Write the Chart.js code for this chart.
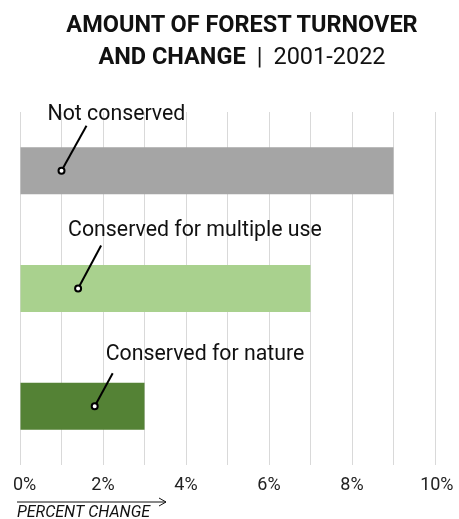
<!DOCTYPE html>
<html>
<head>
<meta charset="utf-8">
<script src="https://cdn.jsdelivr.net/npm/chart.js@4"></script>
<style>
  html, body { margin: 0; padding: 0; background: #fff; }
  #wrap { position: relative; width: 459px; height: 519px; }
  #title {
    position: absolute; left: 25px; top: 8px; width: 434px;
    text-align: center; font-family: Roboto, sans-serif; font-size: 23.5px;
    line-height: 32px; color: #111; font-weight: 700;
  }
  #title .sep { font-weight: 400; margin: 0 11px; }
  #title .yrs { font-weight: 400; }
  canvas { position: absolute; left: 0; top: 0; }
</style>
</head>
<body>
<div id="wrap">
  <canvas id="chart" width="459" height="519"></canvas>
  <div id="title">AMOUNT OF FOREST TURNOVER<br>AND CHANGE<span class="sep">|</span><span class="yrs">2001-2022</span></div>
</div>
<script>
let categories = ['Not conserved', 'Conserved for multiple use', 'Conserved for nature'];
let percentChange = [9, 7, 3];
let barColors = ['#a5a5a5', '#a9d18e', '#548235'];
let labeledTicks = [0, 2, 4, 6, 8, 10];
// where each pointer touches its bar, in percent
let pointerAt = [1.0, 1.4, 1.8];

// text and line offsets (px) relative to the pointer dot
let calloutStyle = [
    { tx: -14, ty: -51, lx: 25, ly: -45 },
    { tx: -10, ty: -53, lx: 23, ly: -43 },
    { tx: 11, ty: -46, lx: 18, ly: -33 }
];

const callouts = {
    id: 'callouts',
    afterDatasetsDraw(chart) {
        let ctx = chart.ctx;
        let xs = chart.scales.x;
        let bars = chart.getDatasetMeta(0).data;
        ctx.save();
        bars.forEach((bar, i) => {
            let s = calloutStyle[i];
            let dx = xs.getPixelForValue(pointerAt[i]);
            let dy = bar.y;
            ctx.strokeStyle = '#000';
            ctx.lineWidth = 2;
            ctx.beginPath();
            ctx.moveTo(dx + s.lx, dy + s.ly);
            ctx.lineTo(dx, dy);
            ctx.stroke();
            ctx.beginPath();
            ctx.arc(dx, dy, 3, 0, Math.PI * 2);
            ctx.fillStyle = '#fff';
            ctx.fill();
            ctx.stroke();
            ctx.fillStyle = '#111';
            ctx.font = '21.3px Roboto';
            ctx.textBaseline = 'alphabetic';
            ctx.textAlign = 'left';
            ctx.fillText(categories[i], dx + s.tx, dy + s.ty);
        });

        // axis title with arrow
        let x0 = 17;
        let ay = 502;
        ctx.strokeStyle = '#111';
        ctx.lineWidth = 1;
        ctx.beginPath();
        ctx.moveTo(x0, ay);
        ctx.lineTo(x0 + 149, ay);
        ctx.moveTo(x0 + 142, ay - 4);
        ctx.lineTo(x0 + 149, ay);
        ctx.lineTo(x0 + 142, ay + 4);
        ctx.stroke();
        ctx.fillStyle = '#111';
        ctx.font = 'italic 16px Roboto';
        ctx.textBaseline = 'alphabetic';
        ctx.fillText('PERCENT CHANGE', x0, 517);
        ctx.restore();
    }
};

function tickText(v) {
    if (!labeledTicks.includes(v)) return '';
    // the end labels sit a little right of their gridlines
    if (v === 0) return '\u2002' + v + '%';
    if (v === 10) return '\u2009' + v + '%';
    return v + '%';
}

new Chart(document.getElementById('chart').getContext('2d'), {
    type: 'bar',
    data: {
        labels: categories,
        datasets: [{
            data: percentChange,
            backgroundColor: barColors,
            borderWidth: 0,
            barPercentage: 0.4,
            categoryPercentage: 1
        }]
    },
    options: {
        indexAxis: 'y',
        responsive: false,
        animation: false,
        devicePixelRatio: 1,
        layout: { padding: { top: 112, left: 20, right: 24, bottom: 0 } },
        plugins: {
            legend: { display: false },
            tooltip: { enabled: false }
        },
        scales: {
            y: { display: false },
            x: {
                min: 0,
                max: 10,
                border: { display: false },
                grid: { color: '#d9d9d9', lineWidth: 1, drawTicks: false },
                ticks: {
                    stepSize: 1,
                    autoSkip: false,
                    maxRotation: 0,
                    padding: 10,
                    color: '#222',
                    font: { family: 'Roboto', size: 18 },
                    callback: tickText
                },
                afterFit: scale => {
                    scale.height = 54;
                    scale.paddingLeft = 0;
                    scale.paddingRight = 0;
                }
            }
        }
    },
    plugins: [callouts]
});
</script>
</body>
</html>
